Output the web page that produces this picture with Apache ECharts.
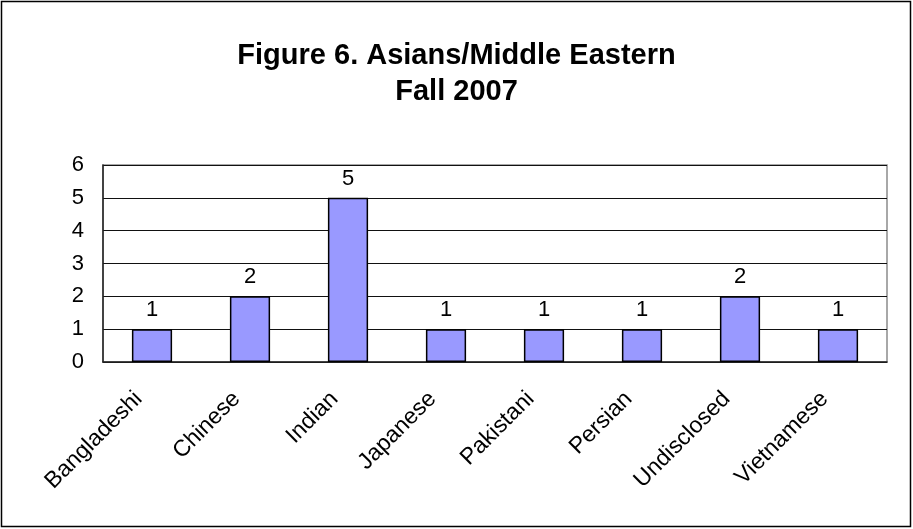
<!DOCTYPE html>
<html>
<head>
<meta charset="utf-8">
<script src="https://cdn.jsdelivr.net/npm/echarts@6/dist/echarts.min.js"></script>
<style>
  html, body { margin: 0; padding: 0; background: #fff; }
  #chart { width: 913px; height: 529px; }
</style>
</head>
<body>
<div id="chart"></div>
<script>
// categories along x
var groups = ["Bangladeshi", "Chinese", "Indian", "Japanese", "Pakistani", "Persian", "Undisclosed", "Vietnamese"];
// counts per group
var counts = [1, 2, 5, 1, 1, 1, 2, 1];
var titleLines = ["Figure 6. Asians/Middle Eastern", "Fall 2007"];

var font = "Liberation Sans, Arial, sans-serif";
var chart = echarts.init(document.getElementById("chart"));
chart.setOption({
  animation: false,
  textStyle: { fontFamily: font, color: "#000" },
  title: {
    text: titleLines.join("\n"),
    left: "center",
    top: 33,
    textStyle: { fontSize: 29, fontWeight: "bold", color: "#000", lineHeight: 36, fontFamily: font }
  },
  grid: { left: 103, right: 26, top: 165, bottom: 167 },
  xAxis: {
    type: "category",
    data: groups,
    axisLine: { lineStyle: { color: "#222", width: 1.5 } },
    axisTick: { show: false },
    axisLabel: { rotate: 45, fontSize: 23, color: "#000", margin: 20, interval: 0, padding: [0, 19, 0, 0] }
  },
  yAxis: {
    type: "value",
    min: 0, max: 6, interval: 1,
    axisLine: { show: true, lineStyle: { color: "#222", width: 1.5 } },
    axisTick: { show: false },
    axisLabel: { fontSize: 22, color: "#000", margin: 19 },
    splitLine: { lineStyle: { color: "#111", width: 1 } }
  },
  series: [{
    type: "bar",
    data: counts,
    barWidth: "41%",
    itemStyle: { color: "#9999FF", borderColor: "#000", borderWidth: 1.5 },
    label: { show: true, position: "top", fontSize: 22, color: "#000", distance: 8 }
  }],
  graphic: [{
    // plot frame (top/right edges are grey)
    type: "rect",
    shape: { x: 103, y: 165, width: 784, height: 197 },
    style: { fill: "none", stroke: "#8c8c8c", lineWidth: 1.5 },
    silent: true, z: -1
  }, {
    // outer chart border
    type: "rect",
    shape: { x: 1.5, y: 1.5, width: 909, height: 525 },
    style: { fill: "none", stroke: "#000", lineWidth: 1.5 },
    silent: true
  }]
});
</script>
</body>
</html>
